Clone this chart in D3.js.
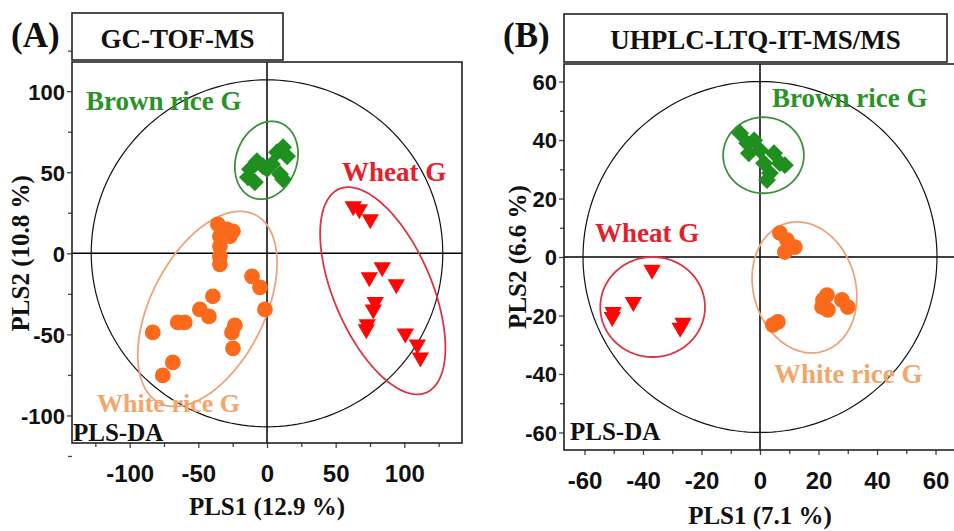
<!DOCTYPE html>
<html>
<head>
<meta charset="utf-8">
<script src="https://cdn.jsdelivr.net/npm/d3@7"></script>
<style>
  body { margin: 0; background: #fff; }
  .tick text { font-family: "Liberation Sans", Arial, sans-serif; font-weight: bold; fill: #111; }
  .serif { font-family: "Liberation Serif", "Times New Roman", serif; font-weight: bold; }
</style>
</head>
<body>
<div id="chart"></div>
<script>
// ---- data ----
// (A) GC-TOF-MS scores
var gcBrown = [[-12.4, 51.9], [-7.3, 56.8], [-2.9, 53.7], [-13.9, 46.9], [-8.8, 43.8], [3.6, 54.9],
  [7.3, 62.3], [11.7, 65.4], [14.6, 59.9], [9.5, 48.8], [11.7, 45.7], [0, 52]];
var gcWheat = [[62.8, 29], [67.2, 27.2], [75.2, 21], [83.9, -8.6], [74.5, -14.8], [94.2, -19.1],
  [77.4, -34.6], [78.8, -30], [73, -43.8], [72.3, -46.9], [100.7, -49.4], [109.5, -56.2], [111.7, -64.2]];
var gcWhite = [[-35.8, 17.9], [-29.2, 14.8], [-24.8, 13.6], [-27, 10.5], [-34.3, 10.5], [-34.3, 4.3],
  [-34.3, -1.9], [-34.3, -6.8], [-10.9, -14.2], [-5.1, -21], [-1.5, -34.6], [-39.4, -26.5],
  [-48.9, -34.6], [-42.3, -38.9], [-65, -42.6], [-59.9, -42.6], [-83.2, -48.8], [-23.4, -44.4],
  [-25.5, -48.8], [-24.8, -58.6], [-68.6, -67.3], [-75.9, -75.3]];
// (B) UHPLC-LTQ-IT-MS/MS scores
var lcBrown = [[-6.8, 42.3], [-4.4, 38.9], [-2, 39.9], [-3.8, 35.5], [0, 36.5], [1.4, 32.1],
  [3.4, 28.7], [4.8, 35.5], [6.8, 32.1], [8.5, 31.4], [2.4, 26.3]];
var lcWheat = [[-36.9, -4.4], [-43.3, -15.4], [-50.2, -18.8], [-50.5, -20.5], [-26.3, -22.5], [-27.3, -24.2]];
var lcWhite = [[6.8, 8.2], [9.2, 5.8], [11.9, 3.4], [8.5, 1.7], [6.1, -22.2], [4.4, -23.2],
  [21.5, -14.7], [21.2, -17.1], [23.2, -18.1], [22.9, -13], [28, -14.7], [30, -17.1]];

// ellipses: [centre x, centre y, spread x, spread y, correlation]
var gcEllipses = {T2: [0, 0, 128, 107, 0], brown: [-0.4, 57.4, 23, 24, 0.17],
  wheat: [84.3, -23.1, 45.6, 63.9, -0.55], white: [-43.4, -34.3, 50.7, 60.2, 0.47]};
var lcEllipses = {T2: [0, 0, 60.5, 60, 0], brown: [1.2, 34.8, 13.8, 13, 0],
  wheat: [-36.7, -17.1, 17.9, 17.1, 0], white: [15.2, -10.4, 17.9, 22.4, -0.14]};

var gcTicks = [-100, -50, 0, 50, 100];
var gcMinor = [-125, -75, -25, 25, 75, 125];
var lcTicks = [-60, -40, -20, 0, 20, 40, 60];
var lcMinor = [-50, -30, -10, 10, 30, 50];

var colors = {
  brown: "#1f8f1f", brownLine: "#3d8f3d", brownText: "#2a9228",
  wheat: "#ff0505", wheatLine: "#dd3444", wheatText: "#e3202c",
  white: "#fb6a1a", whiteLine: "#eba47c", whiteText: "#f2a66a"
};

var svg = d3.select("#chart").append("svg")
  .attr("width", 954)
  .attr("height", 531);

function drawPanel(p) {
  var x = d3.scaleLinear().domain(p.xDomain).range([p.left, p.right]);
  var y = d3.scaleLinear().domain(p.yDomain).range([p.bottom, p.top]);
  var g = svg.append("g");

  g.append("clipPath").attr("id", p.id + "clip")
    .append("rect")
    .attr("x", p.left).attr("y", p.top)
    .attr("width", p.right - p.left).attr("height", p.bottom - p.top);

  // axes (major + minor ticks), plain hyphen for negatives
  var xAx = g.append("g").attr("transform", `translate(0, ${p.bottom})`)
    .call(d3.axisBottom(x).tickValues(p.xTicks).tickSize(5).tickPadding(17).tickFormat(d => String(d)));
  xAx.selectAll("text").style("font-size", "24px");
  g.append("g").attr("transform", `translate(0, ${p.bottom})`)
    .call(d3.axisBottom(x).tickValues(p.xMinor).tickSize(4).tickFormat(""));
  var yAx = g.append("g").attr("transform", `translate(${p.left}, 0)`)
    .call(d3.axisLeft(y).tickValues(p.yTicks).tickSize(5).tickPadding(2).tickFormat(d => String(d)));
  yAx.selectAll("text").style("font-size", "22px").attr("dy", "0.36em");
  g.append("g").attr("transform", `translate(${p.left}, 0)`)
    .call(d3.axisLeft(y).tickValues(p.yMinor).tickSize(4).tickFormat(""));
  g.selectAll(".domain").remove();
  g.selectAll(".tick line").attr("stroke", "#444").attr("stroke-width", 1.3);

  var plot = g.append("g").attr("clip-path", `url(#${p.id}clip)`);

  // zero lines
  plot.append("line").attr("x1", x(0)).attr("x2", x(0)).attr("y1", p.top).attr("y2", p.bottom)
    .attr("stroke", "#000").attr("stroke-width", 1.5);
  plot.append("line").attr("x1", p.left).attr("x2", p.right).attr("y1", y(0)).attr("y2", y(0))
    .attr("stroke", "#000").attr("stroke-width", 1.5);

  // ellipses
  var line = d3.line().curve(d3.curveLinearClosed);
  function ellipse(e) {
    var pts = d3.range(0, 2 * Math.PI, Math.PI / 90).map(function(t) {
      var ex = e[0] + e[2] * Math.cos(t);
      var ey = e[1] + e[3] * (e[4] * Math.cos(t) + Math.sqrt(1 - e[4] * e[4]) * Math.sin(t));
      return [x(ex), y(ey)];
    });
    return line(pts);
  }
  plot.append("path").attr("d", ellipse(p.ell.T2)).attr("fill", "none")
    .attr("stroke", "#111").attr("stroke-width", 1.2);
  ["brown", "wheat", "white"].forEach(function(k) {
    plot.append("path").attr("d", ellipse(p.ell[k])).attr("fill", "none")
      .attr("stroke", colors[k + "Line"]).attr("stroke-width", 1.8);
  });

  // points
  var diamond = d3.symbol().type(d3.symbolSquare).size(160);
  var tri = d3.symbol().type(d3.symbolTriangle).size(130);
  var circ = d3.symbol().type(d3.symbolCircle).size(195);
  plot.selectAll(".brown").data(p.brown).enter().append("path")
    .attr("d", diamond)
    .attr("transform", d => `translate(${x(d[0])}, ${y(d[1])}) rotate(45)`)
    .attr("fill", colors.brown);
  plot.selectAll(".white").data(p.white).enter().append("path")
    .attr("d", circ)
    .attr("transform", d => `translate(${x(d[0])}, ${y(d[1])})`)
    .attr("fill", colors.white);
  plot.selectAll(".wheat").data(p.wheat).enter().append("path")
    .attr("d", tri)
    .attr("transform", d => `translate(${x(d[0])}, ${y(d[1])}) rotate(180)`)
    .attr("fill", colors.wheat);

  // group labels
  p.labels.forEach(function(l) {
    g.append("text").attr("class", "serif")
      .attr("x", l.x).attr("y", l.y)
      .attr("font-size", l.size + "px")
      .attr("fill", l.color)
      .text(l.text);
  });

  // frame
  g.append("rect")
    .attr("x", p.left).attr("y", p.top)
    .attr("width", p.right - p.left).attr("height", p.bottom - p.top)
    .attr("fill", "none").attr("stroke", "#222").attr("stroke-width", 1.6);

  // title box
  g.append("rect")
    .attr("x", p.boxX).attr("y", p.boxY)
    .attr("width", p.boxW).attr("height", p.boxH)
    .attr("fill", "#fff").attr("stroke", "#222").attr("stroke-width", 1.6);
  g.append("text").attr("class", "serif")
    .attr("x", p.boxX + p.boxW / 2).attr("y", p.boxY + 35)
    .attr("text-anchor", "middle").attr("font-size", "27px").attr("fill", "#111")
    .text(p.title);
  g.append("text").attr("class", "serif")
    .attr("x", p.letterX).attr("y", 47)
    .attr("font-size", "35px").attr("fill", "#111")
    .text(p.letter);

  // axis titles
  g.append("text").attr("class", "serif")
    .attr("x", x(0)).attr("y", p.xTitleY)
    .attr("text-anchor", "middle").attr("font-size", "25px").attr("fill", "#111")
    .text(p.xTitle);
  g.append("text").attr("class", "serif")
    .attr("transform", `translate(${p.yTitleX}, ${y(0)}) rotate(-90)`)
    .attr("text-anchor", "middle").attr("font-size", "25px").attr("fill", "#111")
    .text(p.yTitle);
}

drawPanel({
  id: "a", left: 72, right: 462, top: 62, bottom: 443,
  xDomain: [-142, 142], yDomain: [-117, 118],
  xTicks: gcTicks, xMinor: gcMinor, yTicks: gcTicks, yMinor: gcMinor,
  brown: gcBrown, wheat: gcWheat, white: gcWhite, ell: gcEllipses,
  title: "GC-TOF-MS", letter: "(A)", letterX: 11,
  boxX: 72, boxY: 13, boxW: 211, boxH: 47,
  xTitle: "PLS1 (12.9 %)", xTitleY: 515, yTitle: "PLS2 (10.8 %)", yTitleX: 29,
  labels: [
    {text: "Brown rice G", x: 86, y: 110, size: 27, color: colors.brownText},
    {text: "Wheat G", x: 342, y: 181, size: 27, color: colors.wheatText},
    {text: "White rice G", x: 97, y: 412, size: 26, color: colors.whiteText},
    {text: "PLS-DA", x: 73, y: 441, size: 25, color: "#111"}
  ]
});

drawPanel({
  id: "b", left: 564, right: 956, top: 64, bottom: 450,
  xDomain: [-67, 67], yDomain: [-66, 66],
  xTicks: lcTicks, xMinor: lcMinor, yTicks: lcTicks, yMinor: lcMinor,
  brown: lcBrown, wheat: lcWheat, white: lcWhite, ell: lcEllipses,
  title: "UHPLC-LTQ-IT-MS/MS", letter: "(B)", letterX: 503,
  boxX: 564, boxY: 14, boxW: 383, boxH: 48,
  xTitle: "PLS1 (7.1 %)", xTitleY: 524, yTitle: "PLS2 (6.6 %)", yTitleX: 526,
  labels: [
    {text: "Brown rice G", x: 772, y: 107, size: 27, color: colors.brownText},
    {text: "Wheat G", x: 595, y: 242, size: 27, color: colors.wheatText},
    {text: "White rice G", x: 774, y: 383, size: 27, color: colors.whiteText},
    {text: "PLS-DA", x: 570, y: 440, size: 25, color: "#111"}
  ]
});
</script>
</body>
</html>
